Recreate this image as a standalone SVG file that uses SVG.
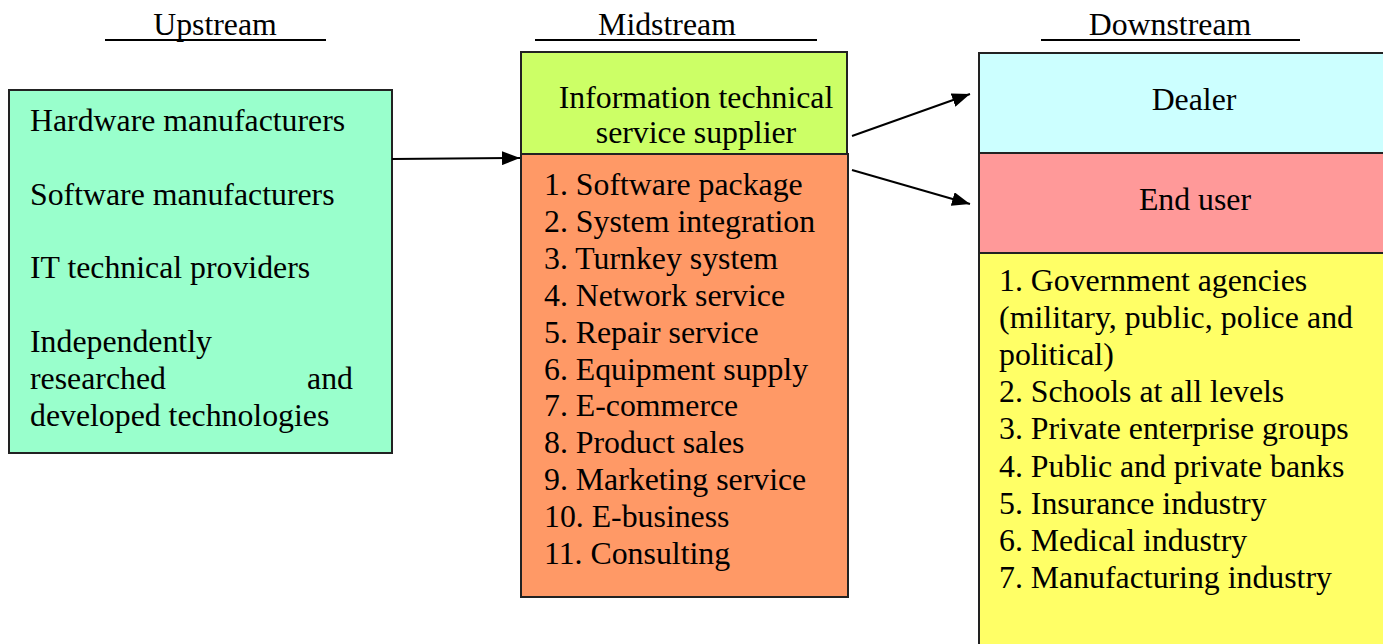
<svg xmlns="http://www.w3.org/2000/svg" width="1383" height="644" viewBox="0 0 1383 644">
<style>
text{font-family:"Liberation Serif","Times New Roman",serif;font-size:31.8px;fill:#000}
.box{stroke:#222;stroke-width:2}
.hdr{stroke:#000;stroke-width:2}
.conn{stroke:#000;stroke-width:2;fill:none}
</style>
<defs>
<marker id="ah" markerUnits="userSpaceOnUse" markerWidth="20" markerHeight="14" refX="18" refY="7" orient="auto">
<path d="M0,0 L18,7 L0,14 Z" fill="#000"/>
</marker>
</defs>
<g id="headers">
<text x="215" y="35" text-anchor="middle">Upstream</text>
<line class="hdr" x1="105" y1="40" x2="326" y2="40"/>
<text x="667" y="35" text-anchor="middle">Midstream</text>
<line class="hdr" x1="535" y1="40" x2="817" y2="40"/>
<text x="1170" y="35" text-anchor="middle">Downstream</text>
<line class="hdr" x1="1041" y1="40" x2="1300" y2="40"/>
</g>
<g id="upstream">
<rect class="box" x="9" y="90" width="383" height="363" fill="#99FFCC"/>
<text x="30" y="131">Hardware manufacturers</text>
<text x="30" y="204.5">Software manufacturers</text>
<text x="30" y="278">IT technical providers</text>
<text x="30" y="352">Independently</text>
<text x="30" y="389">researched</text>
<text x="353" y="389" text-anchor="end">and</text>
<text x="30" y="426">developed technologies</text>
</g>
<g id="it-supplier">
<rect class="box" x="521" y="52" width="326" height="102" fill="#CCFF66"/>
<text x="696" y="108" text-anchor="middle">Information technical</text>
<text x="696" y="143" text-anchor="middle">service supplier</text>
</g>
<g id="services">
<rect class="box" x="521" y="154" width="327" height="443" fill="#FF9966"/>
<text x="544" y="195">1. Software package</text>
<text x="544" y="231.9">2. System integration</text>
<text x="544" y="268.8">3. Turnkey system</text>
<text x="544" y="305.7">4. Network service</text>
<text x="544" y="342.6">5. Repair service</text>
<text x="544" y="379.5">6. Equipment supply</text>
<text x="544" y="416.4">7. E-commerce</text>
<text x="544" y="453.3">8. Product sales</text>
<text x="544" y="490.2">9. Marketing service</text>
<text x="544" y="527.1">10. E-business</text>
<text x="544" y="564">11. Consulting</text>
</g>
<g id="dealer">
<rect class="box" x="979" y="53" width="410" height="100" fill="#CCFFFF"/>
<text x="1194" y="110" text-anchor="middle">Dealer</text>
</g>
<g id="end-user">
<rect class="box" x="979" y="153" width="410" height="100" fill="#FF9999"/>
<text x="1195" y="210" text-anchor="middle">End user</text>
</g>
<g id="user-types">
<rect class="box" x="979" y="253" width="410" height="400" fill="#FFFF66"/>
<text x="999" y="291">1. Government agencies</text>
<text x="999" y="328.1" textLength="354" lengthAdjust="spacing">(military, public, police and</text>
<text x="999" y="365.2">political)</text>
<text x="999" y="402.3">2. Schools at all levels</text>
<text x="999" y="439.4">3. Private enterprise groups</text>
<text x="999" y="476.5">4. Public and private banks</text>
<text x="999" y="513.6">5. Insurance industry</text>
<text x="999" y="550.7">6. Medical industry</text>
<text x="999" y="587.8">7. Manufacturing industry</text>
</g>
<g id="connectors">
<line class="conn" x1="392" y1="159" x2="520" y2="158" marker-end="url(#ah)"/>
<line class="conn" x1="852" y1="136" x2="970" y2="94" marker-end="url(#ah)"/>
<line class="conn" x1="852" y1="170" x2="970" y2="204" marker-end="url(#ah)"/>
</g>
</svg>
